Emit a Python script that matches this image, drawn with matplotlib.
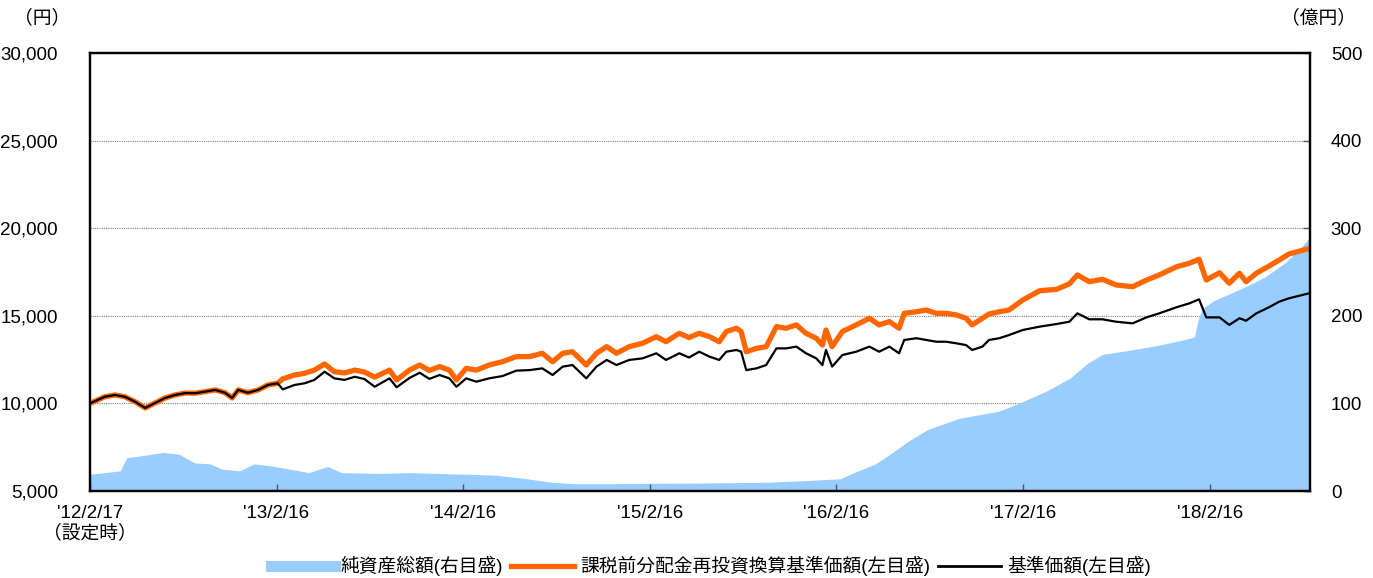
import matplotlib
matplotlib.use("Agg")
import matplotlib.pyplot as plt
import matplotlib.ticker as mticker
from matplotlib.lines import Line2D
import pandas as pd

plt.rcParams['font.family'] = ['Liberation Sans', 'Noto Sans CJK JP', 'DejaVu Sans']

# 基準価額 / 課税前分配金再投資換算基準価額 (円)
nav_dates = [
    '2012-02-17', '2012-03-17', '2012-04-06', '2012-04-25', '2012-05-15', '2012-06-04',
    '2012-06-23', '2012-07-13', '2012-08-01', '2012-08-21', '2012-09-09', '2012-09-29',
    '2012-10-19', '2012-11-07', '2012-11-21', '2012-12-03', '2012-12-22', '2013-01-11',
    '2013-01-30', '2013-02-18', '2013-02-28', '2013-03-23', '2013-04-12', '2013-05-01',
    '2013-05-21', '2013-06-09', '2013-06-29', '2013-07-19', '2013-08-07', '2013-08-27',
    '2013-09-25', '2013-10-09', '2013-11-03', '2013-11-23', '2013-12-12', '2014-01-01',
    '2014-01-20', '2014-02-03', '2014-02-22', '2014-03-14', '2014-04-08', '2014-05-04',
    '2014-05-31', '2014-06-26', '2014-07-21', '2014-08-10', '2014-08-30', '2014-09-18',
    '2014-10-15', '2014-11-04', '2014-11-24', '2014-12-13', '2015-01-07', '2015-02-02',
    '2015-03-01', '2015-03-20', '2015-04-15', '2015-05-04', '2015-05-24', '2015-06-13',
    '2015-07-02', '2015-07-16', '2015-08-05', '2015-08-14', '2015-08-24', '2015-09-13',
    '2015-10-02', '2015-10-22', '2015-11-10', '2015-11-30', '2015-12-19', '2016-01-08',
    '2016-01-20', '2016-01-27', '2016-02-08', '2016-02-28', '2016-03-26', '2016-04-21',
    '2016-05-10', '2016-05-30', '2016-06-18', '2016-06-28', '2016-07-22', '2016-08-10',
    '2016-08-30', '2016-09-18', '2016-10-08', '2016-10-27', '2016-11-08', '2016-11-28',
    '2016-12-11', '2016-12-31', '2017-01-19', '2017-02-15', '2017-03-20', '2017-04-22',
    '2017-05-17', '2017-06-02', '2017-06-25', '2017-07-21', '2017-08-17', '2017-09-18',
    '2017-10-15', '2017-11-09', '2017-12-13', '2018-01-07', '2018-01-26', '2018-02-09',
    '2018-03-07', '2018-03-26', '2018-04-15', '2018-04-28', '2018-05-18', '2018-06-12',
    '2018-07-02', '2018-07-21', '2018-08-30',
]
nav = [
    10000, 10380, 10480, 10380, 10100, 9740,
    10020, 10310, 10480, 10590, 10580, 10670,
    10770, 10610, 10310, 10770, 10610, 10770,
    11050, 11150, 10800, 11050, 11150, 11340,
    11810, 11430, 11340, 11520, 11390, 10950,
    11430, 10920, 11450, 11750, 11400, 11620,
    11430, 10950, 11430, 11240, 11430, 11560,
    11870, 11900, 12000, 11620, 12100, 12190,
    11430, 12100, 12480, 12190, 12480, 12570,
    12860, 12480, 12860, 12620, 12950, 12670,
    12480, 12950, 13050, 12950, 11900, 12000,
    12190, 13140, 13140, 13240, 12860, 12570,
    12190, 13050, 12100, 12760, 12950, 13240,
    12950, 13240, 12860, 13620, 13720, 13620,
    13520, 13520, 13430, 13330, 13050, 13240,
    13620, 13720, 13900, 14190, 14380, 14530,
    14660, 15140, 14800, 14800, 14660, 14570,
    14910, 15140, 15490, 15710, 15940, 14910,
    14910, 14480, 14860, 14720, 15140, 15490,
    15810, 16000, 16290,
]
nav_reinvested = [
    10000, 10380, 10480, 10380, 10100, 9740,
    10020, 10310, 10480, 10590, 10580, 10670,
    10770, 10610, 10310, 10770, 10610, 10770,
    11050, 11150, 11400, 11620, 11720, 11900,
    12250, 11810, 11740, 11900, 11790, 11500,
    11900, 11340, 11900, 12190, 11880, 12100,
    11900, 11340, 12000, 11900, 12190, 12380,
    12670, 12670, 12860, 12380, 12860, 12950,
    12190, 12860, 13240, 12860, 13240, 13430,
    13810, 13520, 14000, 13760, 14000, 13810,
    13520, 14100, 14290, 14100, 12950, 13140,
    13240, 14380, 14290, 14480, 14000, 13720,
    13330, 14190, 13240, 14100, 14480, 14860,
    14480, 14670, 14290, 15140, 15230, 15330,
    15140, 15140, 15050, 14860, 14480, 14860,
    15100, 15230, 15330, 15900, 16430, 16510,
    16820, 17330, 16950, 17080, 16760, 16660,
    17040, 17330, 17800, 18000, 18230, 17040,
    17460, 16860, 17430, 16950, 17430, 17840,
    18190, 18530, 18850,
]

# 純資産総額 (億円)
aum_dates = [
    '2012-02-17', '2012-04-16', '2012-04-29', '2012-05-25', '2012-07-09', '2012-08-09',
    '2012-09-09', '2012-10-09', '2012-11-01', '2012-12-06', '2013-01-03', '2013-02-01',
    '2013-03-04', '2013-04-20', '2013-05-27', '2013-06-23', '2013-09-04', '2013-11-03',
    '2013-12-28', '2014-02-26', '2014-04-22', '2014-06-14', '2014-08-08', '2014-09-22',
    '2014-12-07', '2015-02-23', '2015-05-18', '2015-10-06', '2015-12-23', '2016-02-24',
    '2016-03-26', '2016-05-03', '2016-06-03', '2016-07-04', '2016-08-12', '2016-10-14',
    '2016-12-30', '2017-02-07', '2017-04-02', '2017-05-19', '2017-06-20', '2017-07-21',
    '2017-09-05', '2017-11-05', '2017-12-30', '2018-01-17', '2018-01-24', '2018-02-01',
    '2018-02-23', '2018-03-26', '2018-04-26', '2018-06-03', '2018-07-12', '2018-08-12',
    '2018-08-30',
]
aum = [
    19, 23, 38, 40, 44, 42,
    32, 31, 25, 23, 31, 29,
    26, 21, 28, 21, 20, 21,
    20, 19, 18, 14.5, 10, 8.3,
    8.3, 8.8, 9, 10, 12, 14,
    22, 31, 43, 56, 70, 83,
    91, 100, 114, 129, 145, 156,
    160, 166, 173, 176, 195, 208,
    217, 225, 233, 244, 260, 277,
    289,
]

tick_dates = ['2012-02-17', '2013-02-16', '2014-02-16', '2015-02-16',
              '2016-02-16', '2017-02-16', '2018-02-16']
tick_labels = ["'12/2/17\n（設定時）", "'13/2/16", "'14/2/16", "'15/2/16",
               "'16/2/16", "'17/2/16", "'18/2/16"]

nav_dates = pd.to_datetime(nav_dates)
aum_dates = pd.to_datetime(aum_dates)
tick_dates = pd.to_datetime(tick_dates)

fig = plt.figure(figsize=(13.73, 5.78), dpi=100)
ax = fig.add_axes([90/1373, 87/578, 1220/1373, 438/578])
ax2 = ax.twinx()
ax.set_zorder(ax2.get_zorder() + 1)
ax.patch.set_visible(False)

# net assets area + grid on right axis (grid sits under the area)
ax2.set_axisbelow(True)
ax2.fill_between(aum_dates, aum, 0, color='#99CCFF', lw=0, zorder=2)
ax2.set_ylim(0, 500)
ax2.yaxis.set_major_locator(mticker.MultipleLocator(100))
ax2.grid(axis='y', color='#808080', ls=(0, (1, 1)), lw=0.8, zorder=0)

ax.plot(nav_dates, nav_reinvested, color='#FF6600', lw=3.8, solid_capstyle='butt')
ax.plot(nav_dates, nav, color='black', lw=1.6)
ax.set_ylim(5000, 30000)
ax.yaxis.set_major_locator(mticker.MultipleLocator(5000))
ax.yaxis.set_major_formatter(mticker.FuncFormatter(lambda v, p: f'{v:,.0f}'))
ax.set_xlim(pd.Timestamp('2012-02-17'), pd.Timestamp('2018-08-31'))
ax.set_xticks(tick_dates)
ax.set_xticklabels(tick_labels)

ax.tick_params(axis='y', length=0, labelsize=13.5, pad=23)
ax.tick_params(axis='x', direction='in', length=5, width=1, colors='#555555',
               labelcolor='black', labelsize=13.5, pad=10)
ax2.tick_params(axis='y', direction='in', length=5, width=1, colors='#555555',
                labelcolor='black', labelsize=13.5, pad=15)
ax.get_xticklabels()[0].set_horizontalalignment('center')
ax.get_xticklabels()[0].set_x(pd.Timestamp('2012-03-01'))

for a in (ax, ax2):
    for s in a.spines.values():
        s.set_linewidth(1.6)
        s.set_color('black')

fig.text(42/1373, 1 - 18/578, '（円）', fontsize=13.5, ha='center', va='center')
fig.text(1318/1373, 1 - 18/578, '（億円）', fontsize=13.5, ha='center', va='center')

handles = [
    Line2D([], [], color='#99CCFF', lw=8),
    Line2D([], [], color='#FF6600', lw=3.8),
    Line2D([], [], color='black', lw=2),
]
labels = ['純資産総額(右目盛)', '課税前分配金再投資換算基準価額(左目盛)', '基準価額(左目盛)']
fig.legend(handles, labels, loc='center', bbox_to_anchor=(711/1373, 1 - 566/578),
           ncol=3, frameon=False, fontsize=13.5, handlelength=3.4, handletextpad=0.3,
           columnspacing=0.4)

fig.savefig('out.png', dpi=100)
